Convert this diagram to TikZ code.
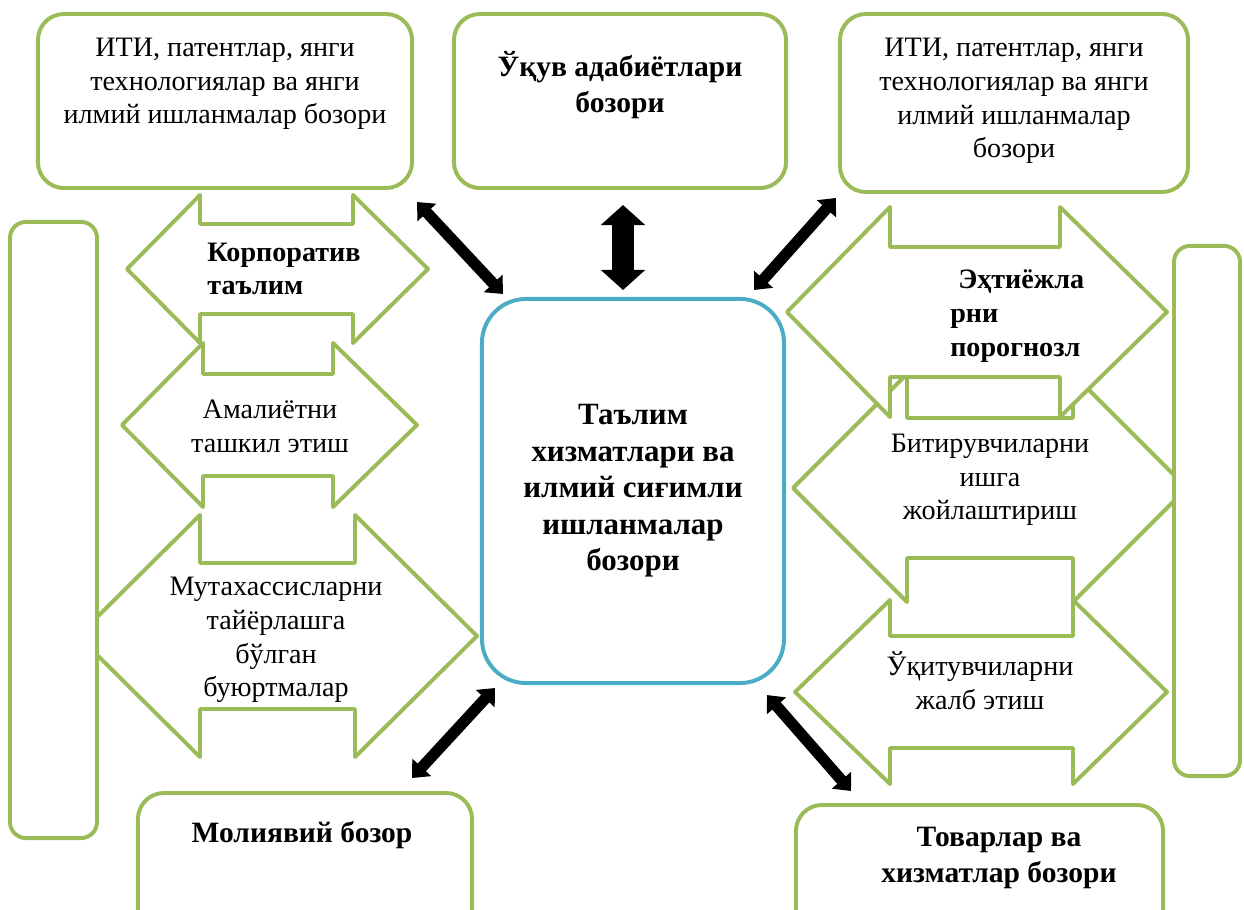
\documentclass[tikz,border=0pt]{standalone}
\usepackage{fontspec}
\setmainfont{Liberation Serif}
\usetikzlibrary{arrows.meta,calc}
\definecolor{grnline}{HTML}{9BBB59}
\definecolor{bluline}{HTML}{4BACC6}
\tikzset{
  greenbox/.style = {draw=grnline, line width=2.8pt, rounded corners=0.65cm, fill=white},
  tallbox/.style = {greenbox, rounded corners=0.4cm},
  bluebox/.style = {draw=bluline, line width=2.8pt, rounded corners=1.1cm, fill=white},
  arrowshape/.style = {draw=grnline, line width=2.8pt, fill=white, line join=round},
  txt/.style = {font=\fontsize{20}{24}\selectfont, align=center, inner sep=0pt},
  btxt/.style = {txt, font=\fontsize{20}{24}\selectfont\bfseries},
  bigtxt/.style = {txt, font=\fontsize{21}{25}\selectfont\bfseries},
  link/.style = {line width=0.28cm, line join=round,
    {Triangle[length=0.36cm,width=0.62cm]}-{Triangle[length=0.36cm,width=0.62cm]}},
  biglink/.style = {line width=0.54cm,
    {Triangle[length=0.5cm,width=1.08cm]}-{Triangle[length=0.5cm,width=1.08cm]}}
}
% xl, xbl, xbr, xr, y, head, shaft
\newcommand{\dblarrow}[7]{%
  \draw[arrowshape] (#1,#5) -- (#2,#5-#6) -- (#2,#5-#7) -- (#3,#5-#7) -- (#3,#5-#6)
    -- (#4,#5) -- (#3,#5+#6) -- (#3,#5+#7) -- (#2,#5+#7) -- (#2,#5+#6) -- cycle;}

\begin{document}
\begin{tikzpicture}[x=0.025cm,y=-0.025cm]
  \clip (0,0) rectangle (1244,909);
  \fill[white] (0,0) rectangle (1244,909);
  % right block arrows
  \dblarrow{795}{890}{1073}{1167}{692}{92}{56}
  \dblarrow{793}{907}{1073}{1187}{488}{114}{70}
  \dblarrow{787}{890}{1060}{1167}{312}{105}{65}
  % left block arrows
  \dblarrow{78}{200}{355}{477}{636}{121}{73}
  \dblarrow{122}{203}{333}{417}{425}{82}{51}
  \dblarrow{127}{200}{353}{428}{269}{74}{45}
  % side bars
  \node[tallbox, minimum width=2.175cm, minimum height=15.4cm] (lbar) at (53.5,530) {};
  \node[tallbox, minimum width=1.65cm, minimum height=13.25cm] (rbar) at (1207,511) {};
  % arrow texts
  \node[btxt, align=left] (korp) at (284,269) {Корпоратив\\таълим};
  \node[txt] (amal) at (270,426) {Амалиётни\\ташкил этиш};
  \node[txt] (mutax) at (276,640) {Мутахассисларни\\тайёрлашга\\бўлган\\буюртмалар};
  \node[btxt, align=left, anchor=west] (ehti) at (950,316) {\hspace*{0.2cm}Эҳтиёжла\\рни\\порогнозл};
  \node[txt] (bitir) at (990,480) {Битирувчиларни\\ишга\\жойлаштириш};
  \node[txt] (ukit) at (980,681) {Ўқитувчиларни\\жалб этиш};
  % markets
  \node[greenbox, minimum width=9.35cm, minimum height=4.35cm] (patl) at (225,101) {};
  \node[txt] (patl-t) at (225,84) {ИТИ, патентлар, янги\\технологиялар ва янги\\илмий ишланмалар бозори};
  \node[greenbox, minimum width=8.3cm, minimum height=4.35cm] (adab) at (620,101) {};
  \node[bigtxt] (adab-t) at (620,85) {Ўқув адабиётлари\\бозори};
  \node[greenbox, minimum width=8.7cm, minimum height=4.45cm] (patr) at (1014,103) {};
  \node[txt] (patr-t) at (1014,101) {ИТИ, патентлар, янги\\технологиялар ва янги\\илмий ишланмалар\\бозори};
  \node[greenbox, minimum width=8.35cm, minimum height=4.175cm] (mol) at (305,876.5) {};
  \node[bigtxt] (mol-t) at (302,835) {Молиявий бозор};
  \node[greenbox, minimum width=9.175cm, minimum height=4.125cm] (tov) at (979.5,887.5) {};
  \node[bigtxt] (tov-t) at (999,858) {Товарлар ва\\хизматлар бозори};
  \node[bluebox, btxt, font=\fontsize{22}{26}\selectfont\bfseries,
    minimum width=7.55cm, minimum height=9.6cm] (talim) at (633,491)
    {Таълим\\хизматлари ва\\илмий сиғимли\\ишланмалар\\бозори};
  % links
  \draw[link] ($(patl.south east)+(3,12)$) -- ($(talim.north west)+(23,-3)$);
  \draw[biglink] ($(adab.south)+(3,15)$) -- ($(talim.north)+(-10,-7)$);
  \draw[link] ($(patr.south west)+(-2,4)$) -- ($(talim.north east)+(-32,-7)$);
  \draw[link] ($(talim.south west)+(15,3)$) -- ($(mol.north east)+(-62,-13)$);
  \draw[link] ($(talim.south east)+(-19,10)$) -- ($(tov.north west)+(57,-12)$);
\end{tikzpicture}
\end{document}
